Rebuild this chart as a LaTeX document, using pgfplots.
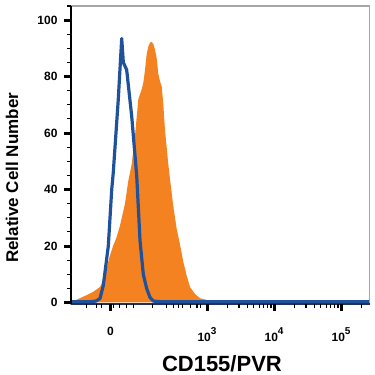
\documentclass[border=0pt]{standalone}
\usepackage{pgfplots}
\pgfplotsset{compat=1.18}
\usepackage{fontspec}
\setmainfont{Liberation Sans}
\definecolor{facsorange}{RGB}{245,130,32}
\definecolor{facsblue}{RGB}{32,82,155}
\definecolor{axnavy}{RGB}{30,50,90}
\pgfplotstableread{
x y
0.970 0.2
1.055 1.0
1.204 2.6
1.303 3.8
1.403 5.5
1.452 7.8
1.507 12.5
1.552 16.7
1.601 20.2
1.649 23.0
1.701 27.2
1.776 35.0
1.825 43.0
1.876 49.0
1.925 59.0
1.975 72.0
2.025 75.5
2.049 77.7
2.075 82.4
2.100 88.0
2.124 90.6
2.149 92.0
2.175 92.3
2.199 91.5
2.224 89.5
2.249 86.5
2.273 81.0
2.299 78.3
2.324 76.5
2.348 70.0
2.373 61.0
2.422 49.0
2.448 43.7
2.497 34.0
2.548 26.0
2.597 20.5
2.646 14.4
2.697 9.5
2.746 5.5
2.821 3.0
2.896 1.5
2.996 0.9
3.145 0.4
3.269 0.0
}\cdtable
\pgfplotstableread{
x y
0.970 0.3
1.254 0.3
1.343 0.5
1.403 1.4
1.452 6.0
1.527 20.0
1.578 40.0
1.601 46.0
1.676 72.0
1.727 93.5
1.751 85.0
1.801 82.4
1.876 66.0
1.951 44.8
2.000 22.0
2.049 10.0
2.100 4.9
2.149 1.8
2.199 0.5
2.299 0.3
5.430 0.3
}\isotable
\newcommand{\sexp}[1]{\textbf{10\raisebox{1.1ex}{\fontsize{10}{11}\selectfont\bfseries #1}}}
\begin{document}
\begin{tikzpicture}
\begin{axis}[
  name=ax,
  scale only axis,
  width=299pt, height=298pt,
  xmin=0.97, xmax=5.43,
  ymin=-0.5, ymax=105,
  xtick pos=bottom,
  ytick pos=left,
  xtick={1.56,3,4,5},
  xticklabels={\textbf{0},\sexp{3},\sexp{4},\sexp{5}},
  ytick={0,20,40,60,80,100},
  yticklabels={\textbf{0},\textbf{20},\textbf{40},\textbf{60},\textbf{80},\textbf{100}},
  tick align=outside,
  major tick length=7pt,
  tick style={black, line width=3pt},
  xticklabel style={font=\fontsize{12}{14}\selectfont, yshift=-13pt},
  yticklabel style={font=\fontsize{12}{14}\selectfont, xshift=-3pt},
  xlabel={\textbf{CD155/PVR}},
  xlabel style={font=\fontsize{22}{25}\selectfont, at={(axis description cs:0.505,-0.2)}, anchor=center},
  ylabel={\textbf{Relative Cell Number}},
  ylabel style={font=\fontsize{17}{20}\selectfont, at={(axis description cs:-0.197,0.423)}, anchor=center, rotate=0},
  clip=false,
  axis line style={gray!70, line width=1.2pt},
]
\addplot[fill=facsorange, draw=none] table[x=x,y=y]{\cdtable} \closedcycle;
\addplot[draw=facsblue, line width=3.2pt, line join=round] table[x=x,y=y]{\isotable};
\draw[gray!70, line width=1.2pt] (rel axis cs:0,1) -- (rel axis cs:1,1) -- (rel axis cs:1,0);
\draw[axnavy, line width=2pt] (rel axis cs:0,0) -- (rel axis cs:1,0);
\draw[black, line width=1.6pt] (rel axis cs:0,0) -- (rel axis cs:0,1);
\pgfplotsinvokeforeach{0,20,40,60,80,100}{
  \draw[black, line width=3pt] (axis cs:0.97,#1) -- ++(-7pt,0pt);
}
\pgfplotsinvokeforeach{5,10,15,25,30,35,45,50,55,65,70,75,85,90,95,105}{
  \draw[black, line width=1.1pt] (axis cs:0.97,#1) -- ++(-4pt,0pt);
}
\pgfplotsinvokeforeach{1.56,3,4,5}{
  \draw[black, line width=3pt] (axis cs:#1,-0.5) -- ++(0pt,-7pt);
}
\pgfplotsinvokeforeach{1.20,1.35,1.43,1.61,1.70,1.80,1.90,2.19,2.40,2.50,2.57,2.64,2.75,2.85,2.90,3.301,3.477,3.602,3.699,3.778,3.845,3.903,3.954,4.301,4.477,4.602,4.699,4.778,4.845,4.903,4.954,5.301}{
  \draw[black, line width=1.1pt] (axis cs:#1,-0.5) -- ++(0pt,-4pt);
}
\end{axis}
\path ([shift={(-71pt,-71pt)}]ax.south west) rectangle ([shift={(5pt,6pt)}]ax.north east);
\end{tikzpicture}
\end{document}
